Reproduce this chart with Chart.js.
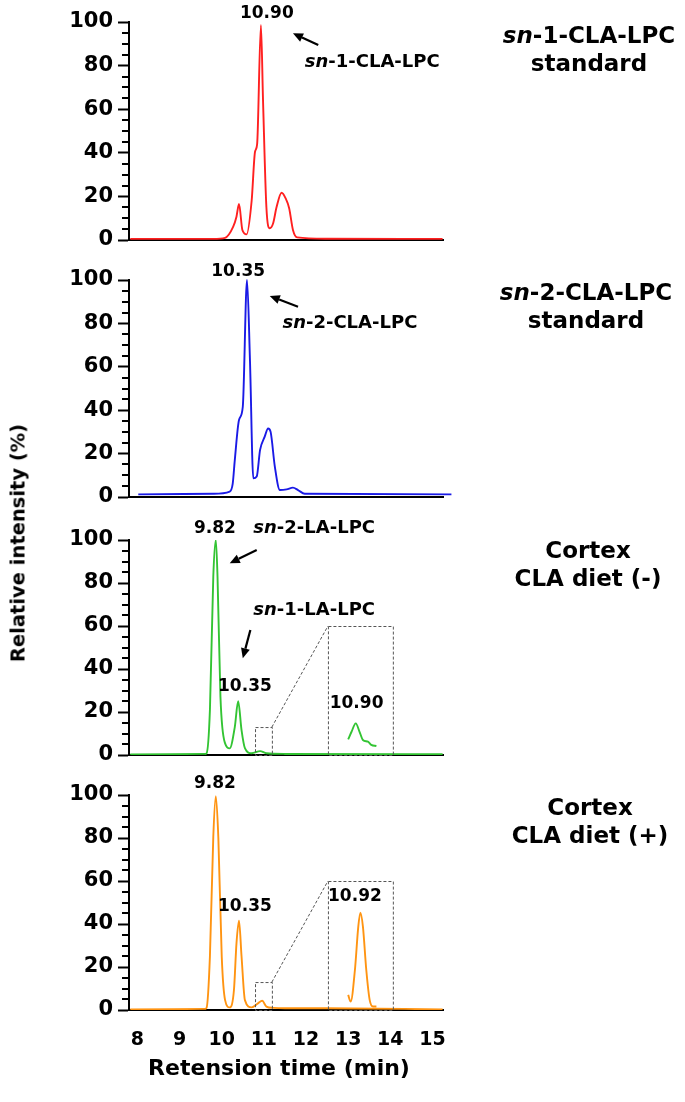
<!DOCTYPE html>
<html><head><meta charset="utf-8">
<script src="https://cdn.jsdelivr.net/npm/chart.js@4.4.1/dist/chart.umd.min.js"></script>
<style>
html,body{margin:0;padding:0;background:#fff;}
#wrap{position:relative;width:685px;height:1102px;overflow:hidden;font-family:"DejaVu Sans",sans-serif;font-weight:bold;color:#000;}
canvas{position:absolute;left:0;top:0;}
.lbl{position:absolute;text-align:center;font-size:23px;line-height:28px;white-space:nowrap;transform:translateX(-50%);}
.ytitle{position:absolute;left:18px;top:543px;font-size:19.5px;white-space:nowrap;transform:translate(-50%,-50%) rotate(-90deg);}
.xtitle{position:absolute;left:279px;top:1067px;font-size:22px;white-space:nowrap;transform:translate(-50%,-50%);}
</style></head><body><div id="wrap">
<canvas id="c1" width="685" height="1102"></canvas>
<canvas id="c2" width="685" height="1102"></canvas>
<canvas id="c3" width="685" height="1102"></canvas>
<canvas id="c4" width="685" height="1102"></canvas>
<div class="lbl" style="left:589px;top:21px"><i>sn</i>-1-CLA-LPC<br>standard</div>
<div class="lbl" style="left:586px;top:278px"><i>sn</i>-2-CLA-LPC<br>standard</div>
<div class="lbl" style="left:588px;top:536px">Cortex<br>CLA diet (-)</div>
<div class="lbl" style="left:590px;top:793px">Cortex<br>CLA diet (+)</div>
<div class="ytitle">Relative intensity (%)</div>
<div class="xtitle">Retension time (min)</div>
</div>
<script>
// ---- data (retention time in min, relative intensity in %) ----
const xTicks = [8, 9, 10, 11, 12, 13, 14, 15];
const yTicks = [0, 20, 40, 60, 80, 100];

const sn1StdX = [7.83, 9.80, 10.08, 10.27, 10.35, 10.41, 10.49, 10.59, 10.71, 10.79, 10.84, 10.93, 10.98, 11.06, 11.14, 11.22, 11.30, 11.42, 11.52, 11.60, 11.69, 11.79, 12.49, 15.24];
const sn1StdY = [0.5, 0.5, 1, 6, 10.7, 16.5, 4.6, 2.6, 18, 40.5, 44, 98.6, 64, 15, 5.4, 7.7, 15, 21.7, 19, 14.6, 4.6, 1.2, 0.6, 0.5];

const sn2StdX = [8.02, 9.80, 10.19, 10.26, 10.31, 10.41, 10.50, 10.60, 10.67, 10.75, 10.83, 10.91, 11.02, 11.10, 11.16, 11.26, 11.38, 11.54, 11.69, 11.81, 11.97, 15.45];
const sn2StdY = [1.2, 1.5, 2.5, 6, 17, 35.5, 41.6, 100, 63, 8.6, 9.4, 21.7, 27.8, 31.6, 30, 14, 3.2, 3.5, 4.3, 3.2, 1.5, 1.2];

const cortexMinusX = [7.83, 9.60, 9.64, 9.72, 9.80, 9.86, 9.90, 9.97, 10.08, 10.19, 10.31, 10.39, 10.47, 10.55, 10.71, 10.91, 11.06, 11.50, 15.24];
const cortexMinusY = [0.3, 0.5, 0.8, 21, 83, 100, 83, 27, 5.4, 3.1, 13, 25, 11.6, 3.2, 0.8, 1.8, 0.8, 0.5, 0.4];
const cortexMinusInsetX = [13.00, 13.08, 13.18, 13.27, 13.35, 13.47, 13.55, 13.67];
const cortexMinusInsetY = [7.3, 10.8, 14.7, 10.8, 7.0, 6.2, 4.7, 4.2];

const cortexPlusX = [7.83, 9.60, 9.64, 9.72, 9.80, 9.86, 9.92, 10.00, 10.08, 10.19, 10.29, 10.35, 10.41, 10.47, 10.55, 10.71, 10.86, 10.96, 11.06, 11.22, 11.50, 12.50, 15.24];
const cortexPlusY = [0.3, 0.5, 1, 25, 80.6, 99.5, 80, 25, 4.6, 1.2, 9.3, 31, 41.5, 25, 4.6, 1.2, 3.1, 4.3, 1.6, 1.0, 0.8, 0.8, 0.3];
const cortexPlusInsetX = [13.00, 13.06, 13.16, 13.24, 13.29, 13.35, 13.43, 13.51, 13.59, 13.67];
const cortexPlusInsetY = [7.0, 3.9, 18.6, 38.8, 45.3, 38.8, 18.6, 4.7, 1.6, 1.6];

// peak annotations
const p1Labels = [{t:'10.90', x:11.07, y:104}, {it:'sn', t:'-1-CLA-LPC', x:11.97, y:81.7, left:true}];
const p1Arrows = [[12.29, 89.4, 11.69, 94.8]];
const p2Labels = [{t:'10.35', x:10.39, y:103.8}, {it:'sn', t:'-2-CLA-LPC', x:11.44, y:80, left:true}];
const p2Arrows = [[11.81, 87.7, 11.14, 92.6]];
const p3Labels = [{t:'9.82', x:9.84, y:105.4}, {it:'sn', t:'-2-LA-LPC', x:10.75, y:105.4, left:true},
  {it:'sn', t:'-1-LA-LPC', x:10.75, y:67.4, left:true}, {t:'10.35', x:10.55, y:31.8}, {t:'10.90', x:13.20, y:24}];
const p3Arrows = [[10.83, 95.3, 10.19, 89.2], [10.68, 58.1, 10.50, 45]];
const p4Labels = [{t:'9.82', x:9.84, y:105.4}, {t:'10.35', x:10.55, y:48}, {t:'10.92', x:13.16, y:52.7}];
const p4Arrows = [];
const zoomSmall = [10.79, 11.19, 13];
const zoomBig = [12.52, 14.06, 60];

const FONT = 'DejaVu Sans';

const decor = {
  id: 'decor',
  afterDraw(chart, args, o) {
    const ctx = chart.ctx, xs = chart.scales.x, ys = chart.scales.y, ca = chart.chartArea;
    ctx.save();
    // minor ticks
    ctx.strokeStyle = '#000'; ctx.lineWidth = 2;
    for (let v = 5; v < 100; v += 5) {
      if (v % 20 === 0) continue;
      const py = Math.round(ys.getPixelForValue(v));
      ctx.beginPath(); ctx.moveTo(ca.left - 7, py); ctx.lineTo(ca.left, py); ctx.stroke();
    }
    // zoom boxes
    if (o.zoom) {
      ctx.strokeStyle = '#555'; ctx.lineWidth = 1; ctx.setLineDash([3, 2]);
      const sx0 = xs.getPixelForValue(zoomSmall[0]), sx1 = xs.getPixelForValue(zoomSmall[1]);
      const sy = ys.getPixelForValue(zoomSmall[2]), y0 = ys.getPixelForValue(0);
      const bx0 = xs.getPixelForValue(zoomBig[0]), bx1 = xs.getPixelForValue(zoomBig[1]);
      const by = ys.getPixelForValue(zoomBig[2]);
      ctx.strokeRect(sx0 + .5, sy + .5, sx1 - sx0, y0 - sy);
      ctx.strokeRect(bx0 + .5, by + .5, bx1 - bx0, y0 - by);
      ctx.beginPath(); ctx.moveTo(sx1, sy); ctx.lineTo(bx0, by); ctx.stroke();
      ctx.setLineDash([]);
    }
    // arrows
    ctx.strokeStyle = '#000'; ctx.fillStyle = '#000'; ctx.lineWidth = 2.2;
    (o.arrows || []).forEach(a => {
      const x1 = xs.getPixelForValue(a[0]), y1 = ys.getPixelForValue(a[1]);
      const x2 = xs.getPixelForValue(a[2]), y2 = ys.getPixelForValue(a[3]);
      const ang = Math.atan2(y2 - y1, x2 - x1), L = 10, W = 4.5;
      const bx = x2 - L * Math.cos(ang), by = y2 - L * Math.sin(ang);
      ctx.beginPath(); ctx.moveTo(x1, y1); ctx.lineTo(bx, by); ctx.stroke();
      ctx.beginPath(); ctx.moveTo(x2, y2);
      ctx.lineTo(bx + W * Math.sin(ang), by - W * Math.cos(ang));
      ctx.lineTo(bx - W * Math.sin(ang), by + W * Math.cos(ang));
      ctx.closePath(); ctx.fill();
    });
    // labels
    ctx.textBaseline = 'middle'; ctx.fillStyle = '#000';
    (o.labels || []).forEach(l => {
      const px = xs.getPixelForValue(l.x), py = ys.getPixelForValue(l.y);
      if (l.it) {
        ctx.font = 'italic bold 18px "' + FONT + '"';
        const w1 = ctx.measureText(l.it).width;
        ctx.textAlign = 'left';
        ctx.fillText(l.it, px, py);
        ctx.font = 'bold 18px "' + FONT + '"';
        ctx.fillText(l.t, px + w1, py);
      } else {
        ctx.font = 'bold 17px "' + FONT + '"';
        ctx.textAlign = l.left ? 'left' : 'center';
        ctx.fillText(l.t, px, py);
      }
    });
    ctx.restore();
  }
};

function pts(xs, ys) { return xs.map((x, i) => ({x: x, y: ys[i]})); }

function makeChart(id, color, mainX, mainY, insetX, insetY, top, bottom, showX, deco, clipMain) {
  const xh = showX ? 45 : 0;
  const datasets = [{
    data: pts(mainX, mainY), borderColor: color, borderWidth: 1.9, pointRadius: 0,
    cubicInterpolationMode: 'monotone', fill: false, clip: clipMain === false ? false : undefined
  }];
  if (insetX) datasets.push({
    data: pts(insetX, insetY), borderColor: color, borderWidth: 1.9, pointRadius: 0,
    cubicInterpolationMode: 'monotone', fill: false
  });
  return new Chart(document.getElementById(id), {
    type: 'line',
    data: { datasets: datasets },
    plugins: [decor],
    options: {
      responsive: false, animation: false, devicePixelRatio: 1,
      layout: { padding: { left: 0, right: 685 - 443, top: top, bottom: 1102 - bottom - xh } },
      plugins: { legend: { display: false }, tooltip: { enabled: false }, decor: deco },
      scales: {
        x: {
          type: 'linear', min: 7.8, max: 15.25,
          afterFit(s) { s.height = xh; },
          border: { color: '#000', width: 2 },
          grid: { drawOnChartArea: false, drawTicks: false },
          afterBuildTicks(s) { s.ticks = xTicks.map(v => ({value: v})); },
          ticks: { display: showX, autoSkip: false, maxRotation: 0, padding: 19, color: '#000',
            font: { family: FONT, size: 19, weight: 'bold' } }
        },
        y: {
          min: 0, max: 100,
          afterFit(s) { s.width = 129; },
          border: { color: '#000', width: 2 },
          grid: { drawOnChartArea: false, tickLength: 11, tickWidth: 2, tickColor: '#000' },
          afterBuildTicks(s) { s.ticks = yTicks.map(v => ({value: v})); },
          ticks: { autoSkip: false, padding: 5, color: '#000',
            font: { family: FONT, size: 21, weight: 'bold' } }
        }
      }
    }
  });
}

makeChart('c1', '#ff2020', sn1StdX, sn1StdY, null, null, 22, 240, false, {labels: p1Labels, arrows: p1Arrows});
makeChart('c2', '#1a1ae6', sn2StdX, sn2StdY, null, null, 280, 497, false, {labels: p2Labels, arrows: p2Arrows}, false);
makeChart('c3', '#33c433', cortexMinusX, cortexMinusY, cortexMinusInsetX, cortexMinusInsetY, 540, 755, false, {labels: p3Labels, arrows: p3Arrows, zoom: true});
makeChart('c4', '#ff9412', cortexPlusX, cortexPlusY, cortexPlusInsetX, cortexPlusInsetY, 795, 1010, true, {labels: p4Labels, arrows: p4Arrows, zoom: true});
</script>
</body></html>
